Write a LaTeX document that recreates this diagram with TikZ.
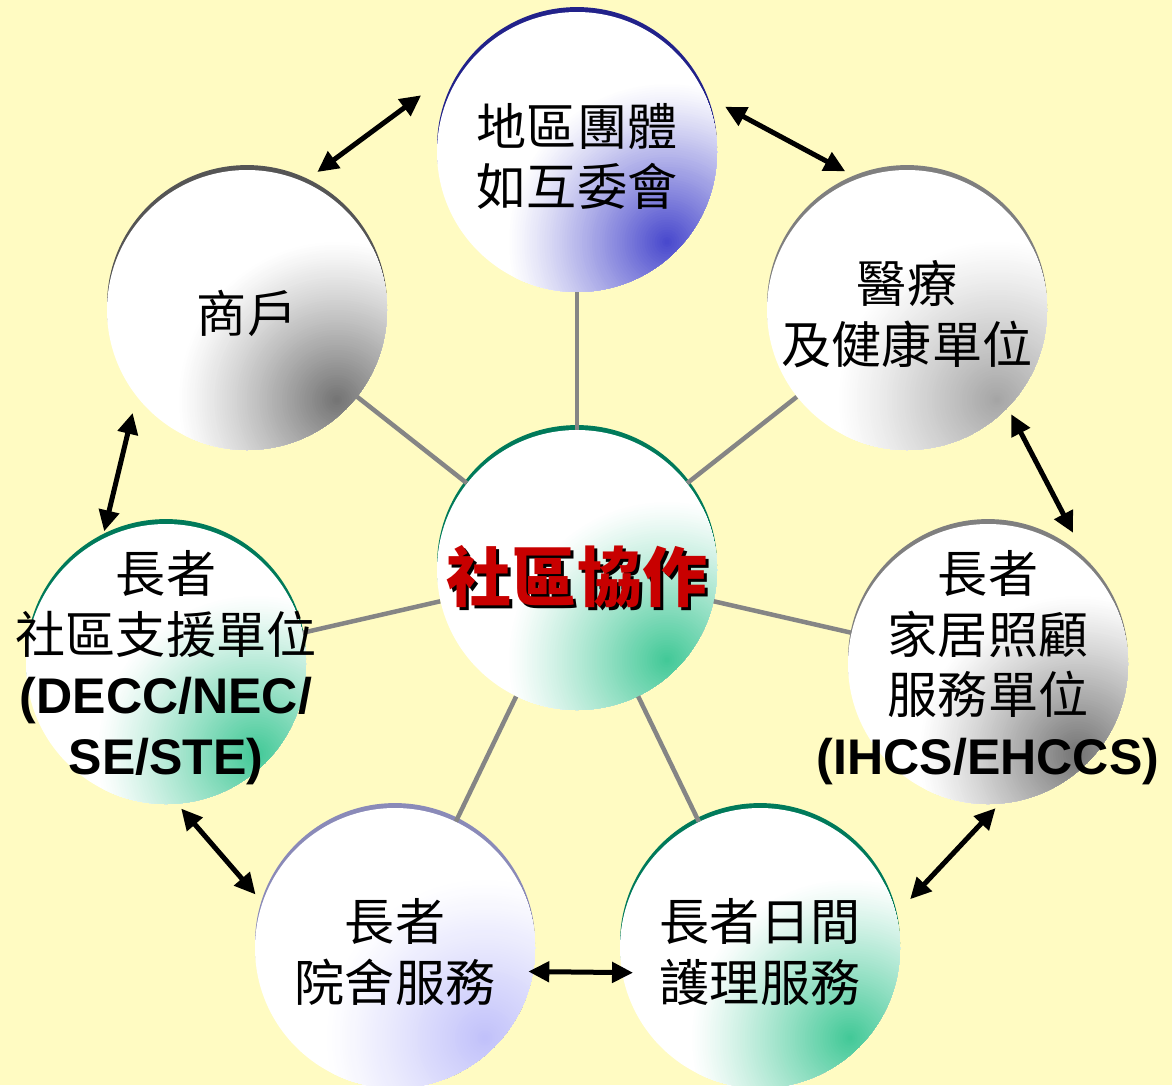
\documentclass[tikz,border=0pt]{standalone}
\usepackage{fontspec}
\newfontfamily\cjk{Noto Sans CJK TC}
\newfontfamily\lat{Liberation Sans}
\usetikzlibrary{arrows.meta}

\definecolor{paper}{HTML}{FFFBC2}
\definecolor{tintblue}{HTML}{4646CC}
\definecolor{tintgreen}{HTML}{40C896}
\definecolor{tintgray}{HTML}{727272}
\definecolor{tintsilver}{HTML}{A4A4A4}
\definecolor{tintlilac}{HTML}{C0C0FA}
\definecolor{rimblue}{HTML}{22228A}
\definecolor{rimgreen}{HTML}{007A5A}
\definecolor{rimgray}{HTML}{555555}
\definecolor{rimsilver}{HTML}{7F7F7F}
\definecolor{rimlilac}{HTML}{8A8AB8}
\definecolor{spokegray}{HTML}{858585}
\definecolor{titlered}{HTML}{C80000}
\colorlet{bubtint}{white}

\begin{document}
\begin{tikzpicture}[
    bubble/.style 2 args={circle, minimum size=5.6cm, inner sep=0pt, fill=white,
      /utils/exec={\colorlet{bubtint}{#1}},
      path picture={
        \foreach \k in {1,...,63} {
          \pgfmathsetmacro\rr{3.2-0.05*\k}
          \pgfmathsetmacro\pp{100*(1-\rr/3.2)^1.15}
          \fill[bubtint!\pp!white] ([shift={(1.8,-1.8)}]path picture bounding box.center) circle (\rr);
        }},
      preaction={fill=#2, transform canvas={yshift=2.8pt}}},
    lbl/.style={font=\cjk\fontsize{28.5}{34.5}\selectfont, align=center, inner sep=0pt},
    hubtxt/.style={font=\cjk\bfseries\fontsize{37}{44}\selectfont, inner sep=0pt},
    spoke/.style={draw=spokegray, line width=0.09cm},
    link/.style={line width=0.1cm, {Triangle[length=0.42cm,width=0.4cm]}-{Triangle[length=0.42cm,width=0.4cm]}}]

  \useasboundingbox (0,0) rectangle (23.44,-21.70);
  \fill[paper] (0,0) rectangle (23.44,-21.70);

  \node[bubble={tintgreen}{rimgreen}] (hub) at (11.54,-11.40) {};
  \node[bubble={tintblue}{rimblue}] (group) at (11.54,-3.04) {};
  \node[bubble={tintgray}{rimgray}] (shop) at (4.94,-6.20) {};
  \node[bubble={tintsilver}{rimsilver}] (medic) at (18.14,-6.20) {};
  \node[bubble={tintgreen}{rimgreen}] (support) at (3.32,-13.28) {};
  \node[bubble={tintgray}{rimsilver}] (homecare) at (19.76,-13.28) {};
  \node[bubble={tintlilac}{rimlilac}] (resi) at (7.90,-18.96) {};
  \node[bubble={tintgreen}{rimgreen}] (daycare) at (15.20,-18.96) {};

  \foreach \n in {group,shop,medic,support,homecare,resi,daycare}
    \draw[spoke] (hub) -- (\n);

  \draw[link] ([shift={(160:0.51)}]group.160) -- ([shift={(63:0.29)}]shop.63);
  \draw[link] ([shift={(17:0.29)}]group.17) -- ([shift={(114:0.23)}]medic.114);
  \draw[link] ([shift={(222:0.27)}]shop.222) -- ([shift={(115:0.12)}]support.115);
  \draw[link] ([shift={(315:0.14)}]medic.315) -- ([shift={(57:0.32)}]homecare.57);
  \draw[link] ([shift={(276:0.10)}]support.276) -- ([shift={(159:0.18)}]resi.159);
  \draw[link] ([shift={(273:0.08)}]homecare.273) -- ([shift={(18:0.35)}]daycare.18);
  \draw[link] ([shift={(170:0.10)}]resi.350) -- ([shift={(11:0.22)}]daycare.191);

  \node[hubtxt, black] (hub-s) at ([shift={(0.06,-0.20)}]hub) {社區協作};
  \node[hubtxt, titlered] (hub-t) at ([yshift=-0.14cm]hub) {社區協作};
  \node[lbl] (group-t) at ([yshift=-0.09cm]group) {地區團體\\如互委會};
  \node[lbl] (shop-t) at ([yshift=-0.06cm]shop) {商戶};
  \node[lbl] (medic-t) at ([yshift=-0.08cm]medic) {醫療\\及健康單位};
  \node[lbl] (support-t) at ([yshift=-0.07cm]support) {長者\\社區支援單位\\{\lat\bfseries (DECC/NEC/}\\{\lat\bfseries SE/STE)}};
  \node[lbl] (homecare-t) at ([yshift=-0.07cm]homecare) {長者\\家居照顧\\服務單位\\{\lat\bfseries (IHCS/EHCCS)}};
  \node[lbl] (resi-t) at ([yshift=-0.08cm]resi) {長者\\院舍服務};
  \node[lbl] (daycare-t) at ([yshift=-0.08cm]daycare) {長者日間\\護理服務};
\end{tikzpicture}
\end{document}
